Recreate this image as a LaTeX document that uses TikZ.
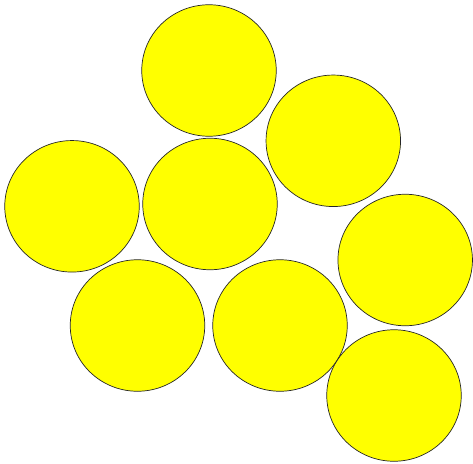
\documentclass[tikz,border=0pt]{standalone}
\usetikzlibrary{shapes.geometric}
\definecolor{ballyellow}{RGB}{255,255,0}
\begin{document}
\begin{tikzpicture}[x=1pt,y=-1pt,
  ball/.style={ellipse,draw=black!85,fill=ballyellow,line width=0.7pt,
    minimum width=134.5pt,minimum height=131.5pt,inner sep=0pt}]
\useasboundingbox (0,0) rectangle (473,463);
\node[ball] (c1) at (209,70.5) {};
\node[ball] (c2) at (333.3,140.8) {};
\node[ball] (c3) at (72,206.3) {};
\node[ball] (c4) at (210,204) {};
\node[ball] (c5) at (405.2,260) {};
\node[ball] (c6) at (137.5,325.5) {};
\node[ball] (c7) at (280,325.5) {};
\node[ball] (c8) at (394,395.5) {};
\end{tikzpicture}
\end{document}
